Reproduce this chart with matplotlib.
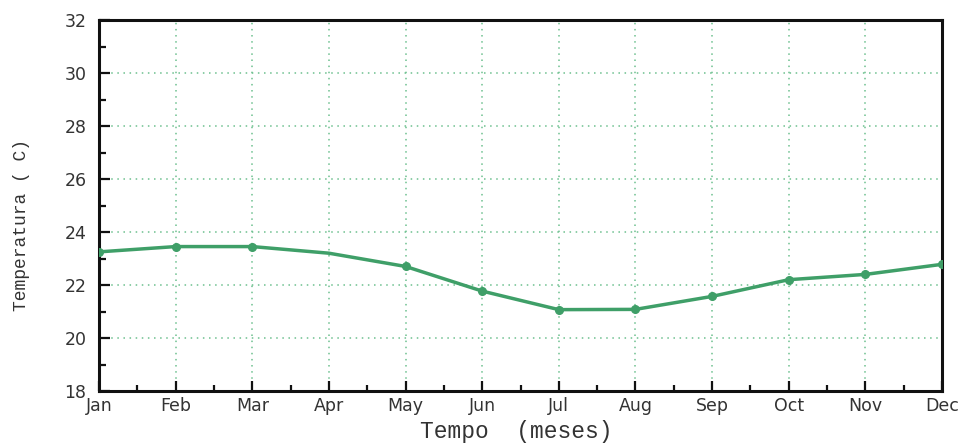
import numpy as np
import matplotlib.pyplot as plt
from matplotlib.ticker import MultipleLocator

# Monthly mean temperature
months = ['Jan', 'Feb', 'Mar', 'Apr', 'May', 'Jun',
          'Jul', 'Aug', 'Sep', 'Oct', 'Nov', 'Dec']
temps = [23.25, 23.45, 23.45, 23.2, 22.7, 21.77,
         21.07, 21.08, 21.57, 22.2, 22.4, 22.78]
y_ticks = [18, 20, 22, 24, 26, 28, 30, 32]

line_green = '#3f9f68'
grid_green = '#6cc08e'

fig = plt.figure(figsize=(9.66, 4.46), dpi=100)
ax = fig.add_axes([99 / 966, 1 - 391 / 446, (942 - 99) / 966, (391 - 20) / 446])

x = np.arange(len(months))
# no dot is drawn on April
marked = [i for i in range(len(months)) if i != 3]
ax.plot(x, temps, color=line_green, lw=2.5, marker='o', ms=5.5,
        markevery=marked, solid_capstyle='round', zorder=3)

ax.set_xlim(0, len(months) - 1)
ax.set_ylim(18, 32)
ax.set_xticks(x)
ax.set_xticklabels(months)
ax.set_yticks(y_ticks)
ax.xaxis.set_minor_locator(MultipleLocator(0.5))
ax.yaxis.set_minor_locator(MultipleLocator(1))

ax.grid(True, which='major', color=grid_green, linestyle=(0, (1, 3)), lw=1.1)

for side in ['left', 'right', 'top', 'bottom']:
    ax.spines[side].set_linewidth(2.2)
    ax.spines[side].set_color('#111111')

ax.tick_params(axis='both', which='both', direction='in', color='#111111',
               width=1.6, labelsize=12.5, labelcolor='#333333')
ax.tick_params(axis='x', which='major', length=7, pad=4)
ax.tick_params(axis='x', which='minor', length=4)
ax.tick_params(axis='y', which='major', length=8, pad=9)
ax.tick_params(axis='y', which='minor', length=5)

fig.text(516 / 966, 1 - 438 / 446, 'Tempo  (meses)', family='Liberation Mono',
         fontsize=16.5, color='#333333', ha='center', va='baseline')
fig.text(22 / 966, 1 - 225 / 446, 'Temperatura ( C)', family='Liberation Mono',
         fontsize=13, color='#333333', ha='center', va='center', rotation=90)

fig.savefig('out.png', dpi=100)
